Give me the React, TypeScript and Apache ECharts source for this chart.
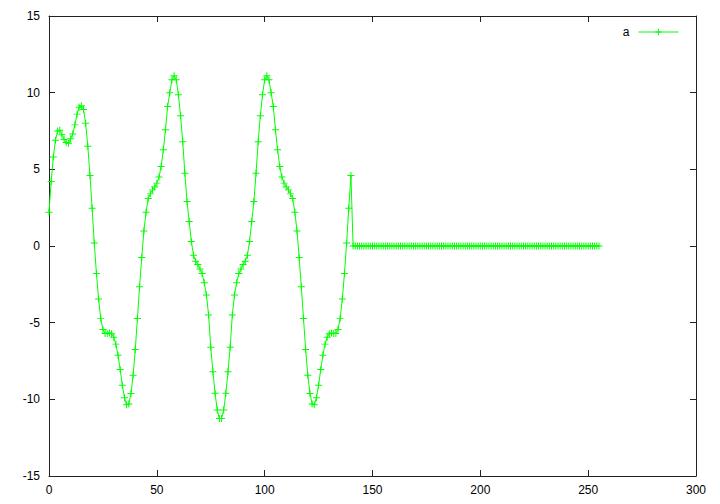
import React, { useEffect, useRef } from "react";
import * as echarts from "echarts";

const seriesName = "a";

// y values for x = 0 .. 140 (signal part)
const signalValues: number[] = [
  2.2, 4.2, 5.8, 6.9, 7.5, 7.55, 7.25, 6.95, 6.75, 6.7,
  7.0, 7.3, 7.9, 8.6, 9.05, 9.15, 8.9, 8.0, 6.5, 4.6,
  2.46, 0.2, -1.8, -3.46, -4.72, -5.44, -5.7, -5.7, -5.68, -5.72,
  -5.95, -6.4, -7.12, -8.05, -9.08, -9.9, -10.35, -10.3, -9.62, -8.43,
  -6.75, -4.73, -2.66, -0.75, 0.98, 2.2, 3.1, 3.4, 3.66, 3.85,
  4.1, 4.5, 5.18, 6.27, 7.58, 9.1, 10.0, 10.84, 11.1, 10.84,
  9.86, 8.5, 6.8, 4.75, 2.9, 1.6, 0.3, -0.6, -1.0, -1.2,
  -1.5, -1.8, -2.4, -3.2, -4.5, -6.6, -8.2, -9.6, -10.7, -11.25,
  -11.25, -10.7, -9.6, -8.2, -6.6, -4.5, -3.2, -2.4, -1.8, -1.5,
  -1.2, -1.0, -0.6, 0.3, 1.6, 2.9, 4.75, 6.8, 8.5, 9.86,
  10.84, 11.1, 10.84, 10.0, 9.1, 7.58, 6.27, 5.18, 4.5, 4.1,
  3.85, 3.66, 3.4, 3.1, 2.2, 0.98, -0.75, -2.66, -4.73, -6.75,
  -8.43, -9.62, -10.3, -10.35, -9.9, -9.08, -8.05, -7.12, -6.4, -5.95,
  -5.72, -5.68, -5.7, -5.7, -5.44, -4.72, -3.46, -1.8, 0.2, 2.46,
  4.6,
];

// y values for x = 141 .. 255 (flat part)
const tailValues: number[] = [
  0, 0, 0, 0, 0, 0, 0, 0, 0, 0,
  0, 0, 0, 0, 0, 0, 0, 0, 0, 0,
  0, 0, 0, 0, 0, 0, 0, 0, 0, 0,
  0, 0, 0, 0, 0, 0, 0, 0, 0, 0,
  0, 0, 0, 0, 0, 0, 0, 0, 0, 0,
  0, 0, 0, 0, 0, 0, 0, 0, 0, 0,
  0, 0, 0, 0, 0, 0, 0, 0, 0, 0,
  0, 0, 0, 0, 0, 0, 0, 0, 0, 0,
  0, 0, 0, 0, 0, 0, 0, 0, 0, 0,
  0, 0, 0, 0, 0, 0, 0, 0, 0, 0,
  0, 0, 0, 0, 0, 0, 0, 0, 0, 0,
  0, 0, 0, 0, 0,
];

const xMin = 0;
const xMax = 300;
const xStep = 50;
const yMin = -15;
const yMax = 15;
const yStep = 5;

const FONT = "'Liberation Sans', Arial, sans-serif";
const AXIS_COLOR = "#222";
const GREEN = "#00ff00";
const PLUS = "path://M-0.14,-1H0.14V-0.14H1V0.14H0.14V1H-0.14V0.14H-1V-0.14H-0.14Z";

export default function App() {
  const ref = useRef<HTMLDivElement>(null);
  useEffect(() => {
    if (!ref.current) return;
    const chart = echarts.init(ref.current, null, { renderer: "svg" });
    const yAll = signalValues.concat(tailValues);
    const data = yAll.map((y, i) => [i, y]);
    const axisCommon = {
      type: "value" as const,
      axisLine: { show: true, onZero: false, lineStyle: { color: AXIS_COLOR, width: 1 } },
      axisTick: { show: true, inside: true, length: 6, lineStyle: { color: AXIS_COLOR, width: 1 } },
      splitLine: { show: false },
    };
    chart.setOption({
      animation: false,
      backgroundColor: "#ffffff",
      grid: { left: 49, right: 24, top: 16, bottom: 28, containLabel: false },
      legend: {
        show: true,
        data: [seriesName],
        right: 41,
        top: 26,
        padding: 0,
        align: "right",
        itemWidth: 40,
        itemHeight: 8,
        itemGap: 10,
        lineStyle: { width: 1 },
        textStyle: { fontFamily: FONT, fontSize: 12, color: "#000", padding: [0, 4, 0, 0] },
      },
      xAxis: [
        {
          ...axisCommon,
          position: "bottom",
          min: xMin,
          max: xMax,
          interval: xStep,
          axisLabel: { show: true, margin: 8, fontFamily: FONT, fontSize: 12, color: "#000" },
        },
        {
          ...axisCommon,
          position: "top",
          min: xMin,
          max: xMax,
          interval: xStep,
          axisLabel: { show: false },
        },
      ],
      yAxis: [
        {
          ...axisCommon,
          position: "left",
          min: yMin,
          max: yMax,
          interval: yStep,
          axisLabel: { show: true, margin: 9, fontFamily: FONT, fontSize: 12, color: "#000" },
        },
        {
          ...axisCommon,
          position: "right",
          min: yMin,
          max: yMax,
          interval: yStep,
          axisLabel: { show: false },
        },
      ],
      series: [
        {
          name: seriesName,
          type: "line",
          data,
          xAxisIndex: 0,
          yAxisIndex: 0,
          symbol: PLUS,
          symbolSize: 7,
          showAllSymbol: true,
          lineStyle: { color: GREEN, width: 1 },
          itemStyle: { color: GREEN },
          emphasis: { disabled: true },
        },
      ],
    });
    return () => chart.dispose();
  }, []);
  return (
    <div
      ref={ref}
      style={{ position: "fixed", left: 0, top: 0, width: 720, height: 504, background: "#fff" }}
    />
  );
}
